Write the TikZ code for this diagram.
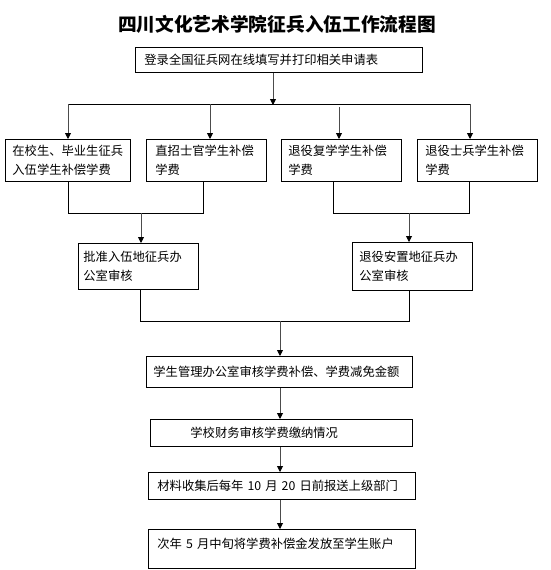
\documentclass[tikz,border=0pt]{standalone}
\usepackage{fontspec}
\setmainfont{Noto Sans CJK SC}
\usetikzlibrary{arrows.meta}
\begin{document}
\begin{tikzpicture}[x=1pt,y=-1pt,
  box/.style={draw=black,line width=0.8pt,anchor=north west,align=left,inner ysep=0pt,
    font=\fontsize{12.3}{18.5}\selectfont},
  arr/.style={draw=black!70,line width=0.9pt,-{Triangle[width=6pt,length=6pt,color=black]}},
  ln/.style={draw=black,line width=0.8pt}]
\useasboundingbox (0,0) rectangle (550,570);
\node[font=\fontsize{18.7}{22}\selectfont\bfseries] (title) at (277,24) {四川文化艺术学院征兵入伍工作流程图};
\node[box,minimum width=287pt,minimum height=25pt,inner xsep=9pt,text width=269pt] (b1) at (135,47) {登录全国征兵网在线填写并打印相关申请表};
\node[box,minimum width=125pt,minimum height=42pt,inner xsep=7pt,text width=111pt] (a) at (5,139) {在校生、毕业生征兵\\入伍学生补偿学费};
\node[box,minimum width=120pt,minimum height=42pt,inner xsep=9pt,text width=102pt] (b) at (146,139) {直招士官学生补偿\\学费};
\node[box,minimum width=120pt,minimum height=42pt,inner xsep=7pt,text width=106pt] (c) at (281,139) {退役复学学生补偿\\学费};
\node[box,minimum width=120pt,minimum height=42pt,inner xsep=8pt,text width=104pt] (d) at (417,139) {退役士兵学生补偿\\学费};
\node[box,minimum width=120pt,minimum height=46pt,inner xsep=5pt,text width=110pt] (e) at (78,243) {批准入伍地征兵办\\公室审核};
\node[box,minimum width=120pt,minimum height=48pt,inner xsep=7pt,text width=106pt] (f) at (352,242) {退役安置地征兵办\\公室审核};
\node[box,minimum width=266pt,minimum height=31pt,inner xsep=7pt,text width=252pt] (g) at (146,356) {学生管理办公室审核学费补偿、学费减免金额};
\node[box,minimum width=262pt,minimum height=27pt,inner xsep=7pt,text width=248pt] (h) at (150,419) {\hspace*{33pt}学校财务审核学费缴纳情况};
\node[box,minimum width=267pt,minimum height=27pt,inner xsep=9pt,text width=249pt] (i) at (148,472) {材料收集后每年 10 月 20 日前报送上级部门};
\node[box,minimum width=267pt,text height=18.7pt,text depth=20.3pt,inner xsep=9pt,text width=249pt] (j) at (148,529) {次年 5 月中旬将学费补偿金发放至学生账户};
% junction coordinates
\coordinate (j1) at (273,104);
\coordinate (hl) at (68,104);
\coordinate (hr) at (470,104);
\coordinate (xb) at (210,104);
\coordinate (xc) at (339,107);
\coordinate (m1) at (141,213);
\coordinate (m1l) at (68,213);
\coordinate (m1r) at (203,213);
\coordinate (m2) at (409,213);
\coordinate (m2l) at (333,213);
\coordinate (m2r) at (469,213);
\coordinate (m3) at (280,321);
\coordinate (m3l) at (140,321);
\coordinate (m3r) at (409,321);
% top distribution
\draw[arr] (j1 |- b1.south) -- ([yshift=-1pt]j1);
\draw[ln] (hl) -- (hr);
\draw[arr] (hl) -- (hl |- a.north);
\draw[arr] (xb) -- (xb |- b.north);
\draw[arr] (xc) -- (xc |- c.north);
\draw[arr] (hr) -- (hr |- d.north);
% left merge
\draw[ln] (m1l |- a.south) -- (m1l) -- (m1r) -- (m1r |- b.south);
\draw[arr] (m1) -- (m1 |- e.north);
% right merge
\draw[ln] (m2l |- c.south) -- (m2l) -- (m2r) -- (m2r |- d.south);
\draw[arr] (m2) -- (m2 |- f.north);
% bottom merge
\draw[ln] (m3l |- e.south) -- (m3l) -- (m3r) -- (m3r |- f.south);
\draw[arr] (m3) -- (m3 |- g.north);
\draw[arr] (m3 |- g.south) -- (m3 |- h.north);
\draw[arr] (m3 |- h.south) -- (m3 |- i.north);
\draw[arr] (m3 |- i.south) -- (m3 |- j.north);
\end{tikzpicture}
\end{document}
